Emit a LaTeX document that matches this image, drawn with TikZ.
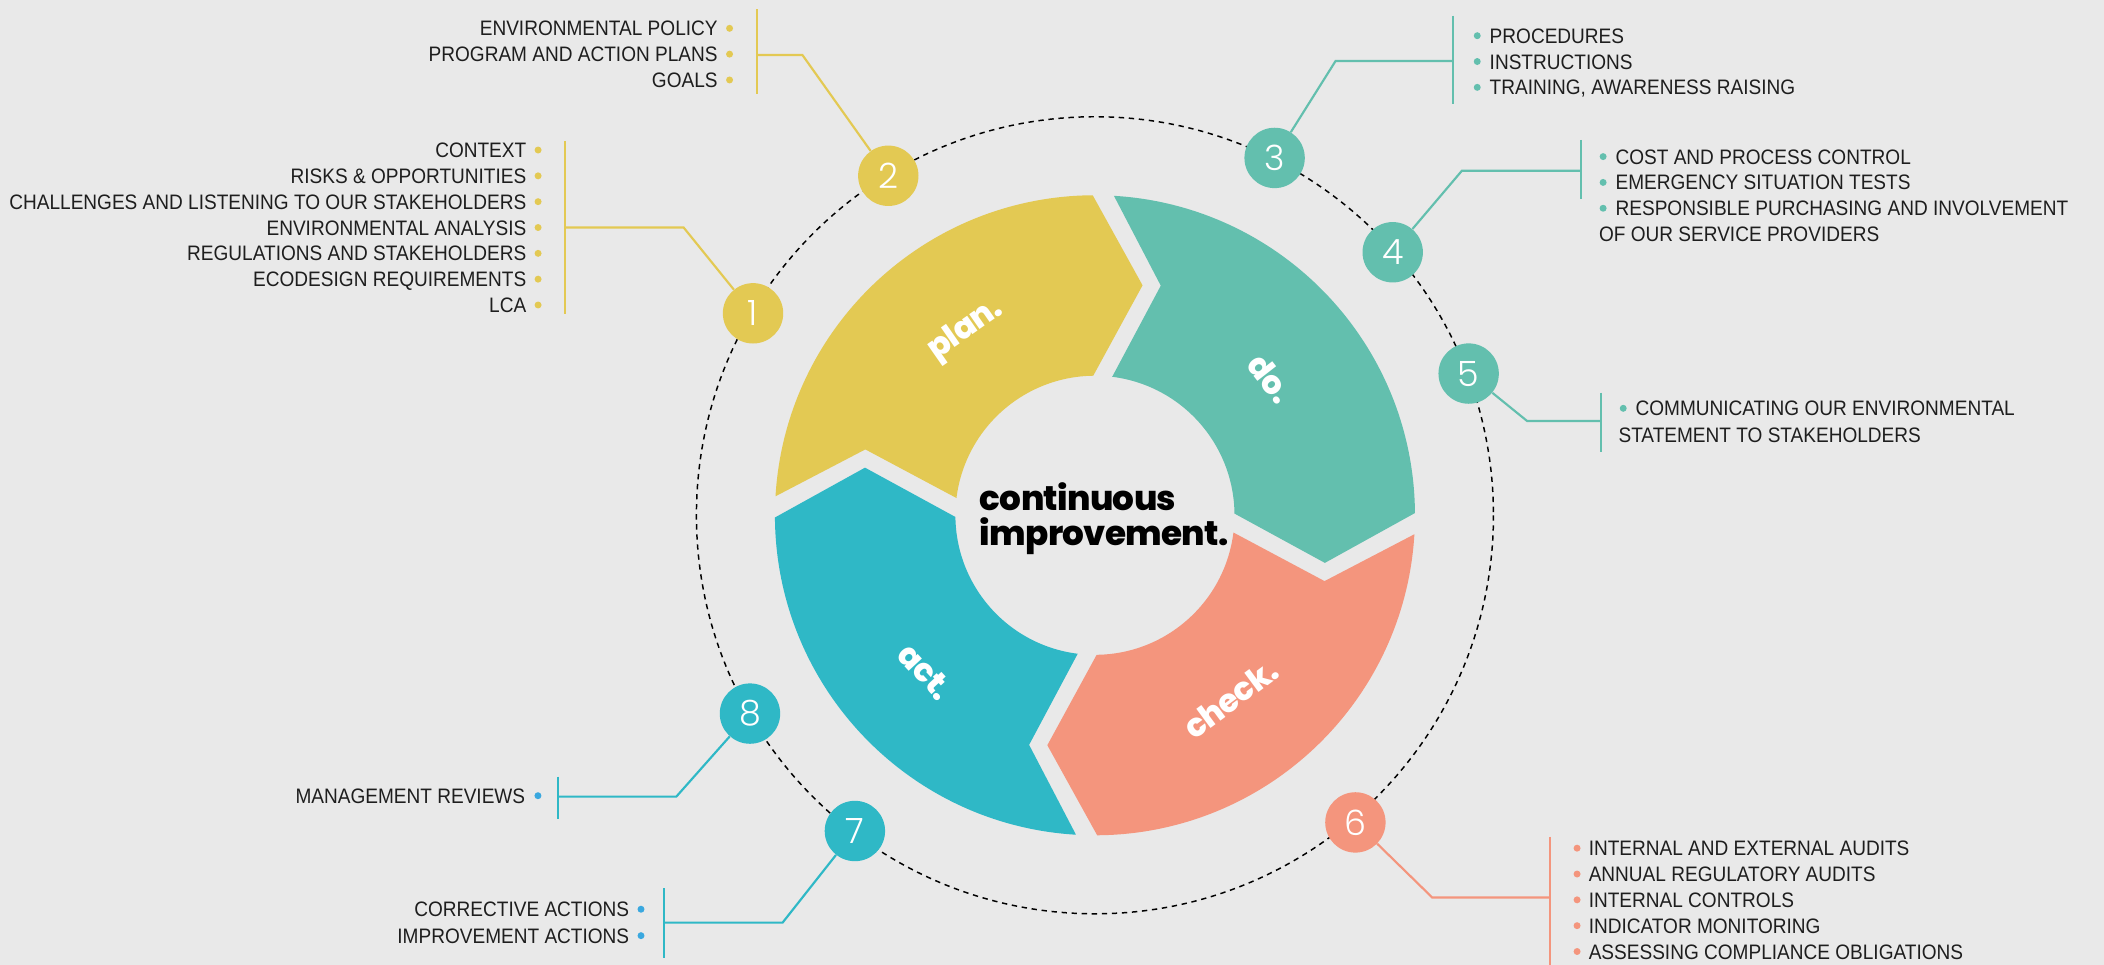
\documentclass[tikz,border=0pt]{standalone}
\usepackage{fontspec}
\setmainfont{Liberation Sans}[FakeStretch=0.91]
\newfontfamily\pop{Poppins ExtraBold}[LetterSpace=-2]
\newfontfamily\numf{Poppins Light}
\definecolor{bg}{HTML}{E9E9E9}
\definecolor{yel}{HTML}{E3C953}
\definecolor{tea}{HTML}{63BFAE}
\definecolor{sal}{HTML}{F4957D}
\definecolor{cya}{HTML}{2FB8C6}
\definecolor{blu}{HTML}{3AA8DF}
\definecolor{txt}{HTML}{1E1E1E}
\begin{document}
\begin{tikzpicture}[x=1pt,y=-1pt,
  lst/.style={font=\fontsize{15.6}{19}\selectfont, text=txt, inner sep=0pt},
  num/.style={circle, minimum size=45pt, inner sep=0pt, text=white, font=\numf\fontsize{26}{26}\selectfont},
  conn/.style={line width=1.6pt},
  seglab/.style={text=white, font=\pop\fontsize{24}{24}\selectfont, inner sep=0pt},
  cont/.style={text=black, font=\pop\fontsize{25.5}{25.5}\selectfont, inner sep=0pt}]
\useasboundingbox (0,0) rectangle (1568,719);
\fill[bg] (0,0) rectangle (1568,719);

% wheel
\begin{scope}[shift={(816,384)}, yscale=-1]
\foreach \s/\c in {180/yel, 90/tea, 0/sal, -90/cya} {
  \fill[\c] (\s-3.4:238.5) arc[start angle=\s-3.4, end angle=\s-89.6, radius=238.5]
     -- (\s-101.7:175) -- (\s-89.3:104)
     arc[start angle=\s-89.3, end angle=\s-7.1, radius=104]
     -- (\s-16:178) -- cycle;
}
\node[seglab, rotate=34.9] (plan) at (124.9:168) {plan.};
\node[seglab, rotate=-52.1] (do) at (37.9:166) {do.};
\node[seglab, rotate=36.5] (check) at (-53.5:170) {check.};
\node[seglab, rotate=-47.3] (act) at (-137.3:172) {act.};
\end{scope}
\node[cont, anchor=base west] (ci1) at (730,380.6) {continuous};
\node[cont, anchor=base west] (ci2) at (730,406.2) {improvement.};

% dashed circle
\draw[line width=1.1pt, dash pattern=on 4pt off 3.5pt] (816,384) circle[radius=297];

% number circles
\node[num, fill=yel] (n1) at (561.2,233.5) {1};
\node[num, fill=yel] (n2) at (662,131) {2};
\node[num, fill=tea] (n3) at (949.9,117.7) {3};
\node[num, fill=tea] (n4) at (1037.9,188) {4};
\node[num, fill=tea] (n5) at (1094.5,278.4) {5};
\node[num, fill=sal] (n6) at (1010.1,612.9) {6};
\node[num, fill=cya] (n7) at (637.1,619.3) {7};
\node[num, fill=cya] (n8) at (558.9,531.8) {8};

% bend and bar coordinates
\coordinate (k1) at (509.5,169.6);  \coordinate (h1) at (421.3,169.6);
\coordinate (b1t) at (421.3,105);   \coordinate (b1b) at (421.3,234);
\coordinate (k2) at (598,41);       \coordinate (h2) at (564,41);
\coordinate (b2t) at (564,7);       \coordinate (b2b) at (564,70.3);
\coordinate (k3) at (995.3,45.5);   \coordinate (h3) at (1082.7,45.5);
\coordinate (b3t) at (1082.7,11.7); \coordinate (b3b) at (1082.7,77.7);
\coordinate (k4) at (1089.5,127.2); \coordinate (h4) at (1178,127.2);
\coordinate (b4t) at (1178,104.3);  \coordinate (b4b) at (1178,148.5);
\coordinate (k5) at (1138,313.7);   \coordinate (h5) at (1193.4,313.7);
\coordinate (b5t) at (1193.4,292.6);\coordinate (b5b) at (1193.4,336.6);
\coordinate (k6) at (1067.4,668.9); \coordinate (h6) at (1155.4,668.9);
\coordinate (b6t) at (1155.4,623.4);\coordinate (b6b) at (1155.4,719);
\coordinate (k7) at (583.2,687.6);  \coordinate (h7) at (495,687.6);
\coordinate (b7t) at (495,662);     \coordinate (b7b) at (495,714.2);
\coordinate (k8) at (504,593.7);    \coordinate (h8) at (415.8,593.7);
\coordinate (b8t) at (415.8,578.8); \coordinate (b8b) at (415.8,610.6);

\draw[conn, yel] (n1) -- (k1) -- (h1);  \draw[conn, yel] (b1t) -- (b1b);
\draw[conn, yel] (n2) -- (k2) -- (h2);  \draw[conn, yel] (b2t) -- (b2b);
\draw[conn, tea] (n3) -- (k3) -- (h3);  \draw[conn, tea] (b3t) -- (b3b);
\draw[conn, tea] (n4) -- (k4) -- (h4);  \draw[conn, tea] (b4t) -- (b4b);
\draw[conn, tea] (n5) -- (k5) -- (h5);  \draw[conn, tea] (b5t) -- (b5b);
\draw[conn, sal] (n6) -- (k6) -- (h6);  \draw[conn, sal] (b6t) -- (b6b);
\draw[conn, cya] (n7) -- (k7) -- (h7);  \draw[conn, cya] (b7t) -- (b7b);
\draw[conn, cya] (n8) -- (k8) -- (h8);  \draw[conn, cya] (b8t) -- (b8b);

% group 1
\foreach \t [count=\i from 0] in {CONTEXT, {RISKS \& OPPORTUNITIES}, {CHALLENGES AND LISTENING TO OUR STAKEHOLDERS}, {ENVIRONMENTAL ANALYSIS}, {REGULATIONS AND STAKEHOLDERS}, {ECODESIGN REQUIREMENTS}, LCA} {
  \node[lst, anchor=base east] (ga\i) at (392.4,117.4+19.25*\i) {\t};
  \fill[yel] (401,111.8+19.25*\i) circle[radius=2.6];
}
% group 2
\foreach \t [count=\i from 0] in {{ENVIRONMENTAL POLICY}, {PROGRAM AND ACTION PLANS}, GOALS} {
  \node[lst, anchor=base east] (gb\i) at (535,26.7+19.25*\i) {\t};
  \fill[yel] (543.7,21.1+19.25*\i) circle[radius=2.6];
}
% group 3
\foreach \t [count=\i from 0] in {PROCEDURES, INSTRUCTIONS, {TRAINING, AWARENESS RAISING}} {
  \node[lst, anchor=base west] (gc\i) at (1110,32.2+19.25*\i) {\t};
  \fill[tea] (1100.9,26.6+19.25*\i) circle[radius=2.6];
}
% group 4
\foreach \t [count=\i from 0] in {{COST AND PROCESS CONTROL}, {EMERGENCY SITUATION TESTS}, {RESPONSIBLE PURCHASING AND INVOLVEMENT}} {
  \node[lst, anchor=base west] (gd\i) at (1203.8,122.3+19.25*\i) {\t};
  \fill[tea] (1194.7,116.7+19.25*\i) circle[radius=2.6];
}
\node[lst, anchor=base west] (gd3) at (1191.5,180.2) {OF OUR SERVICE PROVIDERS};
% group 5
\node[lst, anchor=base west] (ge0) at (1218.7,309.9) {COMMUNICATING OUR ENVIRONMENTAL};
\fill[tea] (1209.7,304.3) circle[radius=2.6];
\node[lst, anchor=base west] (ge1) at (1206,329.7) {STATEMENT TO STAKEHOLDERS};
% group 6
\foreach \t [count=\i from 0] in {{INTERNAL AND EXTERNAL AUDITS}, {ANNUAL REGULATORY AUDITS}, {INTERNAL CONTROLS}, {INDICATOR MONITORING}, {ASSESSING COMPLIANCE OBLIGATIONS}} {
  \node[lst, anchor=base west] (gf\i) at (1183.8,637.7+19.25*\i) {\t};
  \fill[sal] (1175.3,632.1+19.25*\i) circle[radius=2.6];
}
% group 8
\node[lst, anchor=base east] (gh0) at (391.6,598.6) {MANAGEMENT REVIEWS};
\fill[blu] (400.9,593) circle[radius=2.6];
% group 7
\foreach \t [count=\i from 0] in {{CORRECTIVE ACTIONS}, {IMPROVEMENT ACTIONS}} {
  \node[lst, anchor=base east] (gg\i) at (469.1,683.2+19.7*\i) {\t};
  \fill[blu] (477.7,677.6+19.7*\i) circle[radius=2.6];
}
\end{tikzpicture}
\end{document}
